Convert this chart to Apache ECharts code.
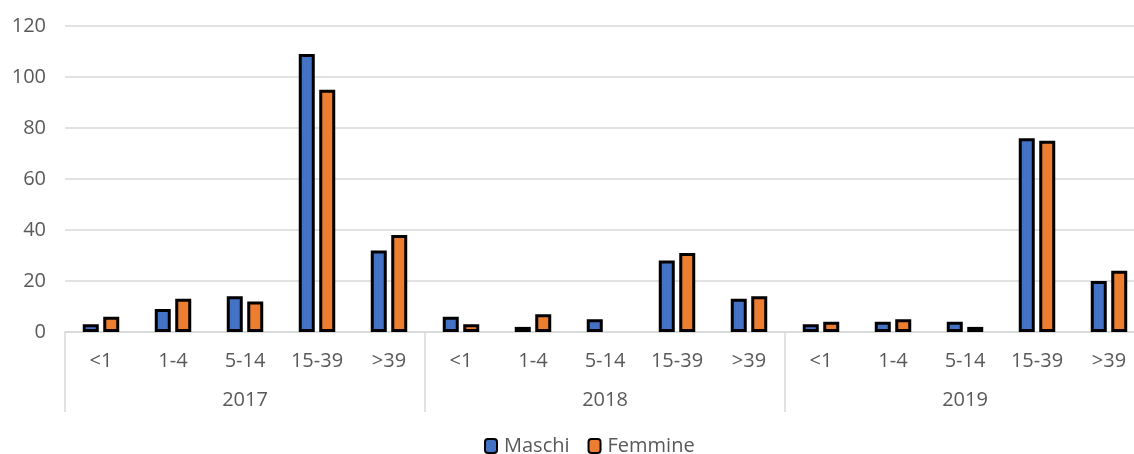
<!DOCTYPE html>
<html>
<head>
<meta charset="utf-8">
<script src="https://cdn.jsdelivr.net/npm/echarts@6/dist/echarts.min.js"></script>
<style>
  html, body { margin: 0; padding: 0; background: #fff; }
  #chart { width: 1134px; height: 454px; }
</style>
</head>
<body>
<div id="chart"></div>
<script>
const years = ['2017', '2018', '2019'];
const ageGroups = ['<1', '1-4', '5-14', '15-39', '>39'];
const maschi = [3, 9, 14, 109, 32, 6, 2, 5, 28, 13, 3, 4, 4, 76, 20];
const femmine = [6, 13, 12, 95, 38, 3, 7, 0, 31, 14, 4, 5, 2, 75, 24];
const yTicks = [0, 20, 40, 60, 80, 100, 120];

// one age label per bar group, repeated for each year
const categories = [];
years.forEach(() => ageGroups.forEach(a => categories.push(a)));

const textColor = '#595959';
const lineColor = '#d9d9d9';
const font = 'Open Sans';

// empty groups get no outline
const toItems = values => values.map(v => v === 0 ? { value: v, itemStyle: { borderWidth: 0 } } : v);

const chart = echarts.init(document.getElementById('chart'));
chart.setOption({
  animation: false,
  textStyle: { fontFamily: font },
  // the plot area runs slightly past the right edge of the canvas
  grid: { left: 65, width: 1080, top: 26, bottom: 122, outerBoundsMode: 'none' },
  legend: {
    bottom: -7,
    left: 479,
    itemWidth: 12,
    itemHeight: 14,
    itemGap: 18,
    textStyle: { fontSize: 20, color: textColor, fontFamily: font, padding: [0, 0, 0, 2] },
    data: ['Maschi', 'Femmine']
  },
  xAxis: [
    {
      type: 'category',
      data: categories,
      position: 'bottom',
      axisLine: { show: false },
      axisTick: { show: false },
      axisLabel: { color: textColor, fontSize: 20, margin: 19, interval: 0 }
    },
    {
      type: 'category',
      data: years,
      position: 'bottom',
      boundaryGap: true,
      axisLine: { show: true, lineStyle: { color: lineColor, width: 1.5 } },
      axisTick: { show: true, length: 80, lineStyle: { color: lineColor, width: 1.5 } },
      axisLabel: { color: textColor, fontSize: 20, margin: 58 }
    }
  ],
  yAxis: {
    type: 'value',
    min: yTicks[0],
    max: yTicks[yTicks.length - 1],
    interval: yTicks[1] - yTicks[0],
    axisLine: { show: false },
    axisTick: { show: false },
    axisLabel: { color: textColor, fontSize: 20, margin: 19 },
    splitLine: { lineStyle: { color: lineColor, width: 1.5 } }
  },
  series: [
    {
      name: 'Maschi',
      type: 'bar',
      xAxisIndex: 0,
      data: toItems(maschi),
      barWidth: 16,
      barGap: '28%',
      itemStyle: { color: '#4472C4', borderColor: '#000', borderWidth: 3 }
    },
    {
      name: 'Femmine',
      type: 'bar',
      xAxisIndex: 0,
      data: toItems(femmine),
      barWidth: 16,
      barGap: '28%',
      itemStyle: { color: '#ED7D31', borderColor: '#000', borderWidth: 3 }
    }
  ]
});
</script>
</body>
</html>
